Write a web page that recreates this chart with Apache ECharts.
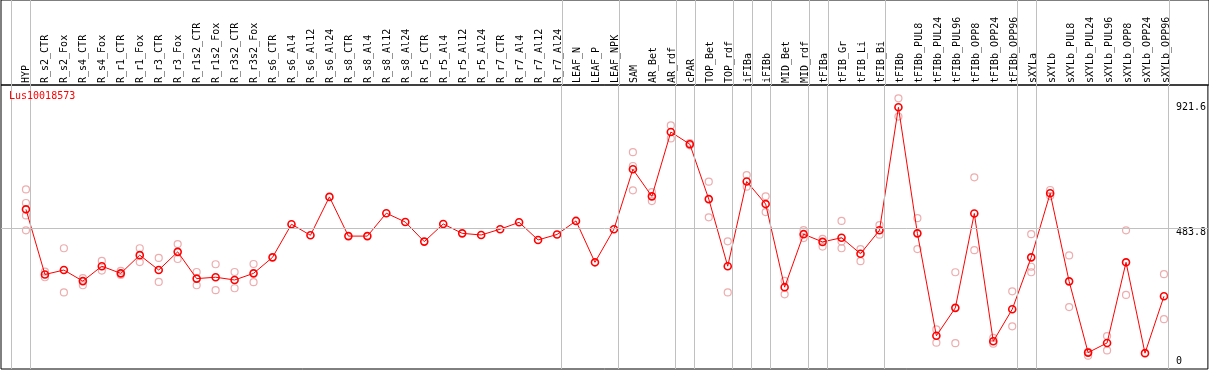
<!DOCTYPE html>
<html><head><meta charset="utf-8">
<script src="https://cdn.jsdelivr.net/npm/echarts@6/dist/echarts.min.js"></script>
<style>html,body{margin:0;padding:0;background:#fff}#c{width:1209px;height:370px}</style>
</head><body><div id="c"></div>
<script>
const chartTitle = 'Lus10018573';
const categories = ['HYP','R_s2_CTR','R_s2_Fox','R_s4_CTR','R_s4_Fox','R_r1_CTR','R_r1_Fox','R_r3_CTR','R_r3_Fox','R_r1s2_CTR','R_r1s2_Fox','R_r3s2_CTR','R_r3s2_Fox','R_s6_CTR','R_s6_Al4','R_s6_Al12','R_s6_Al24','R_s8_CTR','R_s8_Al4','R_s8_Al12','R_s8_Al24','R_r5_CTR','R_r5_Al4','R_r5_Al12','R_r5_Al24','R_r7_CTR','R_r7_Al4','R_r7_Al12','R_r7_Al24','LEAF_N','LEAF_P','LEAF_NPK','SAM','AR_Bet','AR_rdf','cPAR','TOP_Bet','TOP_rdf','iFIBa','iFIBb','MID_Bet','MID_rdf','tFIBa','tFIB_Gr','tFIB_Li','tFIB_Bi','tFIBb','tFIBb_PUL8','tFIBb_PUL24','tFIBb_PUL96','tFIBb_OPP8','tFIBb_OPP24','tFIBb_OPP96','sXYLa','sXYLb','sXYLb_PUL8','sXYLb_PUL24','sXYLb_PUL96','sXYLb_OPP8','sXYLb_OPP24','sXYLb_OPP96'];
const means = [552,316,332,292,346,320,386,332,398,301,306,296,320,378,498,458,597,455,455,538,506,435,499,465,459,480,505,441,461,510,360,480,697,599,832,788,589,346,653,571,270,462,434,449,391,476,921.6,465,94,195,537,74,190,378,610,291,33,68,360,31,237];
const replicates = [[624,575,530,476],[326,306],[411,251],[303,277],[365,330],[329,314],[411,361],[376,289],[426,372],[325,277],[353,259],[325,266],[354,288],[],[],[],[],[],[],[],[],[],[],[],[],[],[],[],[],[],[],[],[759,709,621],[614,582],[856,809],[792,784],[652,523],[436,251],[676,634],[599,542],[293,244],[477,448],[445,417],[510,435,411],[408,364],[495,460],[954,888],[520,408],[117,69],[324,67],[668,404],[86,65],[255,128],[462,344,324],[622,600],[385,198],[36,22],[93,41],[476,242],[],[317,154]];
const groupStarts = [0,1,29,32,35,36,38,39,40,42,43,46,53,54,61];
const yTickValues = [0, 483.8, 921.6];
const refLineValue = 483.8;

const FONT = 'DejaVu Sans Mono';
const RED = '#ff0000';
const PINK = '#e8999a';
const GRAY = '#c0c0c0';
const step = 19;              // px per category
const firstPx = 25;           // first category centre offset from grid left
const gridW = 1209;
const xMin = -firstPx / step;
const xMax = xMin + gridW / step;
const lineOffset = 14.5 / step;

const vLines = groupStarts.map(i => ({ xAxis: i - lineOffset }));
const repData = [];
replicates.forEach((arr, i) => arr.forEach(v => repData.push([i, v])));
const meanData = means.map((v, i) => [i, v]);

const chart = echarts.init(document.getElementById('c'), null, { renderer: 'canvas' });
chart.setOption({
  animation: false,
  backgroundColor: '#fff',
  title: {
    text: chartTitle, left: 9, top: 91, padding: 0,
    textStyle: { color: RED, fontSize: 10, fontFamily: FONT, fontWeight: 'normal' }
  },
  grid: [
    { left: 1, right: -1, top: 85, bottom: 1, show: true, borderColor: '#000', borderWidth: 1, backgroundColor: 'transparent' },
    { left: 1, right: -1, top: 0, height: 85, show: true, borderColor: '#000', borderWidth: 1, backgroundColor: 'transparent' },
    { left: 1 + firstPx - step / 2, width: categories.length * step, top: 0, height: 85 }
  ],
  xAxis: [
    { type: 'value', gridIndex: 0, min: xMin, max: xMax, show: false },
    { type: 'value', gridIndex: 1, min: xMin, max: xMax, show: false },
    { type: 'category', gridIndex: 2, data: categories, position: 'bottom', boundaryGap: true,
      axisLine: { show: false }, axisTick: { show: false }, splitLine: { show: false },
      axisLabel: { inside: true, rotate: 90, margin: 2, interval: 0, color: '#000', fontSize: 10, fontFamily: FONT } }
  ],
  yAxis: [
    { type: 'value', gridIndex: 0, min: -26.45, max: 1002.4, position: 'right',
      axisLine: { show: false }, axisTick: { show: false }, splitLine: { show: false },
      axisLabel: { customValues: yTickValues, inside: true, align: 'left', margin: 32, color: '#000', fontSize: 10, fontFamily: FONT,
        formatter: v => v === refLineValue ? '{lo|' + v + '}' : String(v),
        rich: { lo: { padding: [8, 0, 0, 0], fontSize: 10, fontFamily: FONT, color: '#000' } } } },
    { type: 'value', gridIndex: 1, min: 0, max: 1, show: false },
    { type: 'value', gridIndex: 2, min: 0, max: 1, show: false }
  ],
  series: [
    { type: 'line', xAxisIndex: 1, yAxisIndex: 1, data: [], silent: true, z: 1,
      markLine: { silent: true, symbol: ['none', 'none'], label: { show: false }, animation: false,
        lineStyle: { color: GRAY, type: 'solid', width: 1 }, data: vLines } },
    { type: 'scatter', xAxisIndex: 0, yAxisIndex: 0, data: repData, z: 2, silent: true,
      symbol: 'circle', symbolSize: 7,
      itemStyle: { color: 'rgba(0,0,0,0)', borderColor: PINK, borderWidth: 1.2 },
      markLine: { silent: true, symbol: ['none', 'none'], label: { show: false }, animation: false,
        lineStyle: { color: GRAY, type: 'solid', width: 1 },
        data: vLines.concat([{ yAxis: refLineValue }]) } },
    { type: 'line', xAxisIndex: 0, yAxisIndex: 0, data: meanData, z: 3, silent: true,
      symbol: 'circle', symbolSize: 7, showAllSymbol: true,
      lineStyle: { color: RED, width: 1 },
      itemStyle: { color: 'rgba(0,0,0,0)', borderColor: RED, borderWidth: 1.6 } }
  ]
});
</script></body></html>
